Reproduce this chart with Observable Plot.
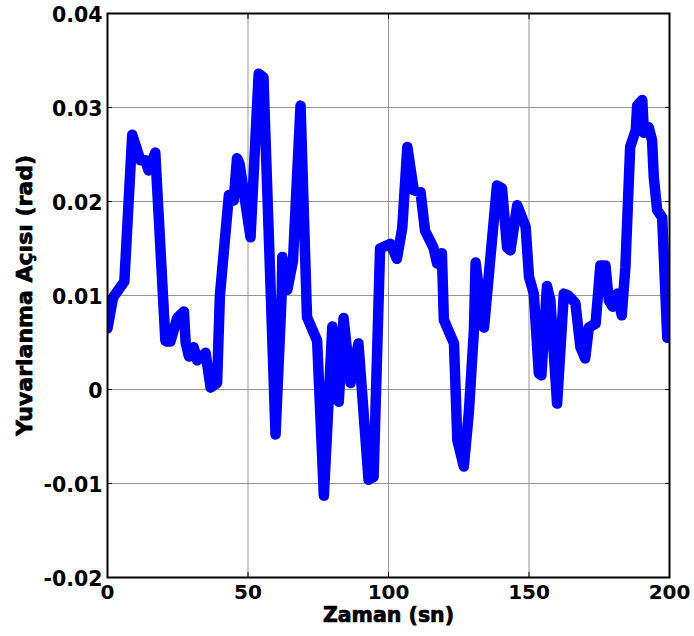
<!DOCTYPE html>
<html>
<head>
<meta charset="utf-8">
<script src="https://cdn.jsdelivr.net/npm/d3@7"></script>
<script src="https://cdn.jsdelivr.net/npm/@observablehq/plot@0.6"></script>
<style>
  html, body { margin: 0; padding: 0; background: #fff; }
  #chart svg { display: block; }
  #chart text { font-family: "DejaVu Sans", "Liberation Sans", Arial, sans-serif; font-weight: bold; }
</style>
</head>
<body>
<div id="chart"></div>
<script>
// Time (s)
const time = [0, 2, 6, 8.8, 11.7, 13.5, 14.6, 17, 20.6, 21.2, 22.4, 24.8, 27.2, 27.8, 29, 30.7, 31.9, 34.9, 36.7, 39,
  40, 43.2, 44.9, 46.1, 47, 50.9, 53.8, 55.5, 59.8, 62, 62.2, 64, 66, 68.7, 71, 74.6, 77, 80, 82.3, 84,
  86.5, 89.3, 92.9, 94.7, 97, 100.7, 103, 104.9, 106.7, 109, 111.4, 113, 116, 117.3, 119, 119.7, 123.3, 124.5, 126.8, 128.6,
  130.4, 131, 132.2, 134, 138.6, 140.4, 142.2, 143.4, 145.8, 148.8, 150, 151.7, 153.5, 154.4, 156.4, 157.6, 160, 162.4, 164, 166.5,
  168.3, 170, 171.3, 173.7, 175.4, 177.2, 178.4, 179.8, 181.4, 183, 184.3, 186, 188, 188.5, 190.3, 190.9, 192.6, 193.8, 194.4, 195.6,
  197.4, 199.2];
// Roll angle (rad)
const roll = [0.0065, 0.0098, 0.0115, 0.0271, 0.0244, 0.0244, 0.0233, 0.0252, 0.0052, 0.0051, 0.0051, 0.0076, 0.0083, 0.0050, 0.0035, 0.0045, 0.0031, 0.0039, 0.0002, 0.0007,
  0.0100, 0.0207, 0.0201, 0.0246, 0.0240, 0.0162, 0.0336, 0.0332, -0.0048, 0.0102, 0.0141, 0.0106, 0.0137, 0.0302, 0.0077, 0.0052, -0.0113, 0.0067, -0.0013, 0.0076,
  0.0007, 0.0049, -0.0096, -0.0093, 0.0150, 0.0155, 0.0139, 0.0172, 0.0258, 0.0212, 0.0210, 0.0169, 0.0151, 0.0134, 0.0145, 0.0074, 0.0049, -0.0054, -0.0082, -0.0024,
  0.0063, 0.0135, 0.0106, 0.0066, 0.0217, 0.0214, 0.0151, 0.0148, 0.0196, 0.0173, 0.0120, 0.0102, 0.0017, 0.0015, 0.0110, 0.0095, -0.0015, 0.0102, 0.0100, 0.0092,
  0.0045, 0.0033, 0.0066, 0.0070, 0.0132, 0.0132, 0.0095, 0.0088, 0.0102, 0.0079, 0.0130, 0.0258, 0.0276, 0.0302, 0.0308, 0.0273, 0.0279, 0.0265, 0.0226, 0.0191,
  0.0183, 0.0055];

const xTicks = [0, 50, 100, 150, 200];
const yTicks = [-0.02, -0.01, 0, 0.01, 0.02, 0.03, 0.04];
const yTickLabels = ["-0.02", "-0.01", "0", "0.01", "0.02", "0.03", "0.04"];
const xTitle = "Zaman (sn)";
const yTitle = "Yuvarlanma Açısı (rad)";

const data = time.map((t, i) => ({t, v: roll[i]}));
const fmtY = d => yTickLabels[yTicks.findIndex(v => Math.abs(v - d) < 1e-9)];
const heavy = {fontWeight: "bold", stroke: "#000", strokeWidth: 0.7, fill: "#000"};

const chart = Plot.plot({
  width: 694,
  height: 636,
  marginLeft: 107,
  marginRight: 25,
  marginTop: 13,
  marginBottom: 59,
  style: {fontFamily: "DejaVu Sans, Liberation Sans, Arial, sans-serif", fontWeight: "bold", background: "#fff", color: "#000"},
  x: {domain: [0, 200], ticks: xTicks, label: null},
  y: {domain: [-0.02, 0.04], ticks: yTicks, label: null},
  marks: [
    Plot.gridX(xTicks, {stroke: "#8c8c8c", strokeOpacity: 0.9, strokeWidth: 1}),
    Plot.gridY(yTicks, {stroke: "#8c8c8c", strokeOpacity: 0.9, strokeWidth: 1}),
    Plot.line(data, {x: "t", y: "v", stroke: "#0000ff", strokeWidth: 10.5, strokeLinejoin: "round", strokeLinecap: "round", clip: true}),
    Plot.axisX(xTicks, {anchor: "bottom", tickSize: 0, tickPadding: 7, fontSize: 20, label: null, ...heavy}),
    Plot.axisY(yTicks, {anchor: "left", tickSize: 0, tickPadding: 5, fontSize: 20.5, tickFormat: fmtY, dy: 2, label: null, ...heavy}),
    Plot.axisY(yTicks, {anchor: "left", tickSize: -5, tickFormat: () => "", stroke: "#000", label: null}),
    Plot.axisY(yTicks, {anchor: "right", tickSize: -5, tickFormat: () => "", stroke: "#000", label: null}),
    Plot.axisX(xTicks, {anchor: "bottom", tickSize: -5, tickFormat: () => "", stroke: "#000", label: null}),
    Plot.axisX(xTicks, {anchor: "top", tickSize: -5, tickFormat: () => "", stroke: "#000", label: null}),
    Plot.frame({stroke: "#000", strokeWidth: 2}),
    Plot.text([xTitle], {text: d => d, frameAnchor: "bottom", dy: 30, lineAnchor: "top", textAnchor: "middle", fontSize: 20.5, ...heavy}),
    Plot.text([yTitle], {text: d => d, frameAnchor: "left", rotate: -90, dx: -83, lineAnchor: "middle", textAnchor: "middle", fontSize: 22, ...heavy})
  ]
});
document.getElementById("chart").appendChild(chart);
</script>
</body>
</html>
